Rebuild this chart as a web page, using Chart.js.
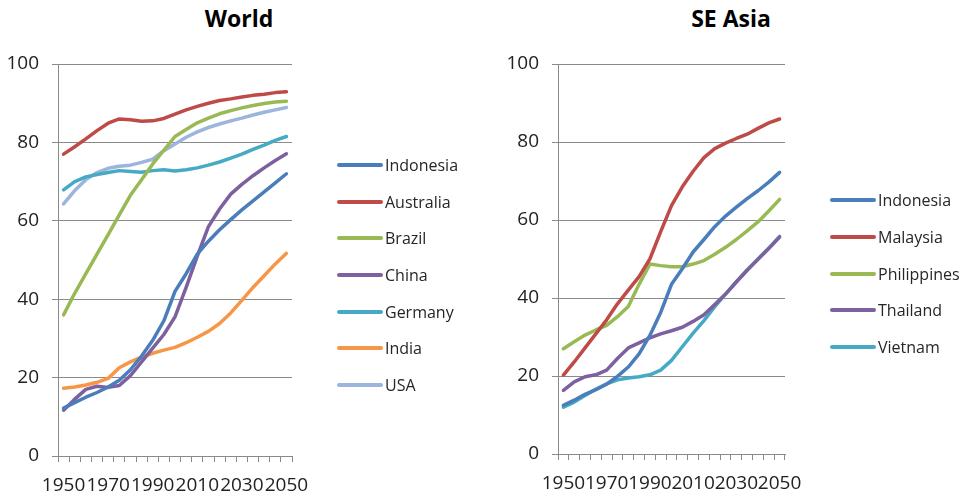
<!DOCTYPE html>
<html>
<head>
<meta charset="utf-8">
<script src="https://cdn.jsdelivr.net/npm/chart.js@4/dist/chart.umd.min.js"></script>
<style>
  body { margin: 0; background: #fff; width: 972px; height: 500px; overflow: hidden; position: relative; font-family: 'Open Sans', sans-serif; }
  canvas { position: absolute; top: 0; }
  .title { position: absolute; top: 2px; font-weight: bold; font-size: 23px; color: #000; transform: translateX(-50%); white-space: nowrap; }
  .legend { position: absolute; }
  .legend .row { position: absolute; left: 0; height: 20px; display: flex; align-items: center; white-space: nowrap; font-size: 16px; color: #262626; }
  .legend .swatch { width: 46px; height: 4px; border-radius: 2px; margin-right: 2px; }
</style>
</head>
<body>
<div class="title" style="left:239px">World</div>
<div class="title" style="left:731px">SE Asia</div>
<canvas id="worldChart" width="478" height="500" style="left:0"></canvas>
<canvas id="seaChart" width="482" height="500" style="left:490px"></canvas>
<div class="legend" id="worldLegend" style="left:337px; top:155px"></div>
<div class="legend" id="seaLegend" style="left:830px; top:190px"></div>
<script>
// Urban population share (%), every 5 years
const years = ['1950', '1955', '1960', '1965', '1970', '1975', '1980', '1985', '1990', '1995', '2000',
  '2005', '2010', '2015', '2020', '2025', '2030', '2035', '2040', '2045', '2050'];
const yTicks = [0, 20, 40, 60, 80, 100];

// World panel
const worldIndonesia = [12.2, 13.6, 15.0, 16.2, 17.6, 19.3, 22.0, 25.5, 29.5, 34.5, 42.0, 46.5, 51.5, 54.8, 57.7, 60.3, 62.8, 65.1, 67.4, 69.7, 72.0];
const worldAustralia = [77.0, 78.9, 80.9, 83.0, 84.9, 86.0, 85.8, 85.4, 85.5, 86.1, 87.2, 88.3, 89.2, 90.0, 90.7, 91.1, 91.6, 92.0, 92.3, 92.7, 92.9];
const worldBrazil = [36.0, 41.5, 46.5, 51.5, 56.5, 61.5, 66.5, 70.5, 74.5, 78.0, 81.5, 83.3, 85.0, 86.2, 87.3, 88.1, 88.8, 89.4, 89.9, 90.3, 90.5];
const worldChina = [11.7, 14.5, 17.0, 17.8, 17.5, 18.0, 20.5, 24.0, 27.5, 31.0, 35.5, 43.0, 51.0, 58.5, 63.0, 66.8, 69.3, 71.5, 73.5, 75.4, 77.1];
const worldGermany = [67.9, 70.0, 71.2, 71.8, 72.3, 72.8, 72.6, 72.4, 72.8, 73.0, 72.7, 73.0, 73.5, 74.2, 75.0, 76.0, 77.0, 78.2, 79.3, 80.5, 81.5];
const worldIndia = [17.3, 17.6, 18.1, 18.8, 19.8, 22.5, 24.0, 25.2, 26.2, 27.0, 27.7, 28.9, 30.3, 31.8, 33.8, 36.5, 39.7, 43.0, 46.0, 49.0, 51.7];
const worldUSA = [64.3, 67.7, 70.5, 72.3, 73.4, 73.9, 74.2, 74.9, 75.7, 77.9, 79.6, 81.3, 82.7, 83.8, 84.7, 85.5, 86.2, 87.0, 87.7, 88.3, 88.9];

// SE Asia panel
const seaIndonesia = [12.5, 13.8, 15.3, 16.5, 17.9, 19.9, 22.3, 25.7, 30.4, 36.3, 43.5, 47.5, 51.8, 55.0, 58.3, 61.0, 63.3, 65.5, 67.5, 69.7, 72.2];
const seaMalaysia = [20.2, 23.6, 27.2, 30.8, 34.4, 38.5, 42.0, 45.5, 50.0, 57.0, 63.7, 68.5, 72.5, 76.0, 78.3, 79.7, 80.9, 82.0, 83.5, 84.9, 85.9];
const seaPhilippines = [27.0, 28.8, 30.5, 31.8, 33.0, 35.2, 37.8, 43.5, 48.7, 48.3, 48.0, 48.0, 48.7, 49.6, 51.2, 53.0, 55.0, 57.2, 59.5, 62.3, 65.3];
const seaThailand = [16.3, 18.5, 19.8, 20.3, 21.5, 24.5, 27.2, 28.5, 29.8, 30.8, 31.6, 32.5, 34.0, 35.7, 38.3, 41.0, 44.1, 47.1, 49.9, 52.7, 55.6];
const seaVietnam = [12.0, 13.3, 15.0, 16.6, 18.0, 19.0, 19.5, 19.8, 20.3, 21.5, 24.0, 27.5, 31.0, 34.2, 37.8, 41.0, 44.2, 47.2, 50.0, 52.8, 55.8];

const colors = {
  blue: '#4A7EBB', red: '#BE4B48', green: '#98B954', purple: '#7D60A0',
  aqua: '#46AAC5', orange: '#F79646', lightBlue: '#9BB5DC'
};
const gridColor = '#8a8a8a';
const tickFont = { family: "'Open Sans', sans-serif", size: 19 };

function series(label, data, color) {
  return {
    label, data,
    borderColor: color, backgroundColor: color,
    borderWidth: 3.5, pointRadius: 0, tension: 0,
    borderJoinStyle: 'round', borderCapStyle: 'round'
  };
}

function makeChart(id, datasets, yWidth, xHeight, padRight) {
  return new Chart(document.getElementById(id), {
    type: 'line',
    data: { labels: years, datasets },
    options: {
      responsive: false,
      animation: false,
      devicePixelRatio: 1,
      layout: { padding: { left: 0, right: padRight, top: 64, bottom: 0 } },
      plugins: { legend: { display: false }, tooltip: { enabled: false } },
      scales: {
        x: {
          offset: true,
          grid: { drawOnChartArea: false, drawTicks: true, tickLength: 6, color: gridColor, offset: true },
          border: { color: gridColor },
          ticks: {
            autoSkip: false, maxRotation: 0, padding: 12, color: '#222', font: tickFont,
            callback: (v, i) => (i % 4 === 0 ? years[i] : '')
          },
          afterFit: (scale) => { scale.height = xHeight; }
        },
        y: {
          min: 0, max: 100,
          afterBuildTicks: (scale) => { scale.ticks = yTicks.map((v) => ({ value: v })); },
          grid: { color: gridColor, tickLength: 6 },
          border: { color: gridColor },
          ticks: { padding: 13, color: '#222', font: tickFont },
          afterFit: (scale) => { scale.width = yWidth; }
        }
      }
    }
  });
}

const worldSets = [
  series('Indonesia', worldIndonesia, colors.blue),
  series('Australia', worldAustralia, colors.red),
  series('Brazil', worldBrazil, colors.green),
  series('China', worldChina, colors.purple),
  series('Germany', worldGermany, colors.aqua),
  series('India', worldIndia, colors.orange),
  series('USA', worldUSA, colors.lightBlue)
];
const seaSets = [
  series('Indonesia', seaIndonesia, colors.blue),
  series('Malaysia', seaMalaysia, colors.red),
  series('Philippines', seaPhilippines, colors.green),
  series('Thailand', seaThailand, colors.purple),
  series('Vietnam', seaVietnam, colors.aqua)
];

makeChart('worldChart', worldSets, 58, 44, 186);
makeChart('seaChart', seaSets, 68, 46, 187);

// legends: one row per dataset, line swatch then name
function buildLegend(id, sets, step) {
  const box = document.getElementById(id);
  sets.forEach((ds, i) => {
    const row = document.createElement('div');
    row.className = 'row';
    row.style.top = (i * step) + 'px';
    row.innerHTML = `<span class="swatch" style="background:${ds.borderColor}"></span><span>${ds.label}</span>`;
    box.appendChild(row);
  });
}
buildLegend('worldLegend', worldSets, 36.67);
buildLegend('seaLegend', seaSets, 36.75);
</script>
</body>
</html>
